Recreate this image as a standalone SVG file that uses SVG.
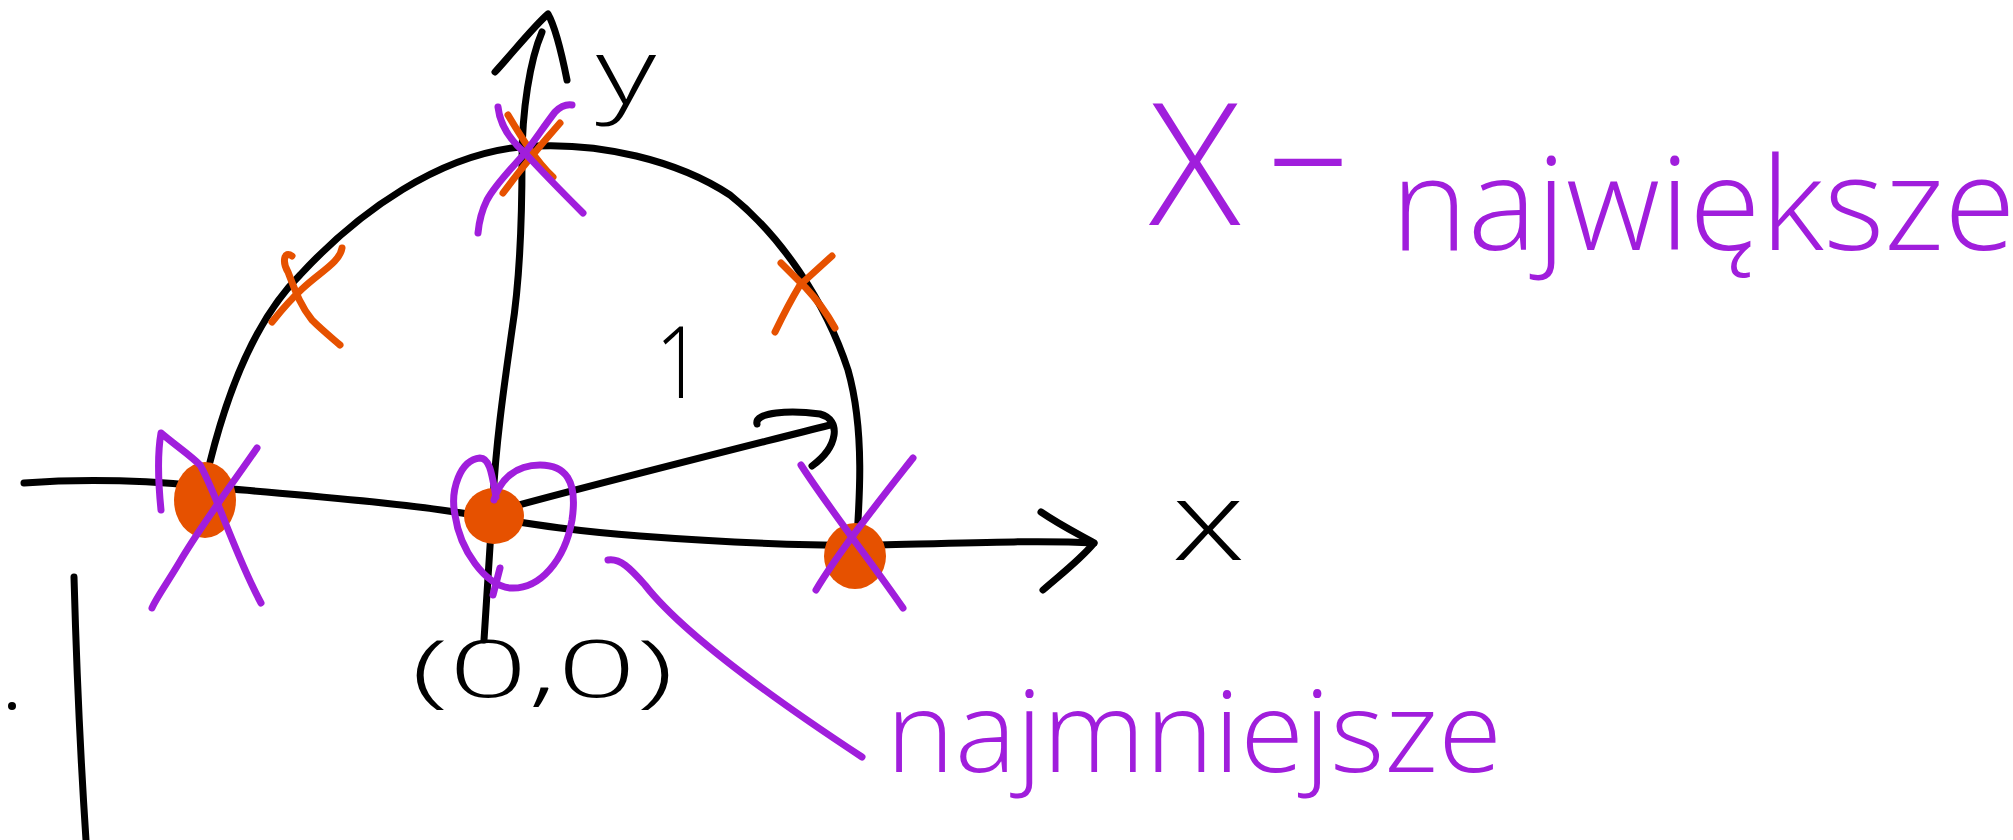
<svg xmlns="http://www.w3.org/2000/svg" width="2013" height="840" viewBox="0 0 2013 840">
<style>
.k{fill:none;stroke:#000;stroke-width:7;stroke-linecap:round;stroke-linejoin:round}
.p{fill:none;stroke:#A01EDC;stroke-width:7;stroke-linecap:round;stroke-linejoin:round}
.o{fill:none;stroke:#E65100;stroke-width:7;stroke-linecap:round;stroke-linejoin:round}
.dot{fill:#E65100}
.tk{fill:#000;font-family:"Open Sans","Liberation Sans",sans-serif;font-weight:300}
.tp{fill:#A01EDC;font-family:"Open Sans","Liberation Sans",sans-serif;font-weight:300}
</style>
<rect width="2013" height="840" fill="#fff"/>
<g id="axes">
<path class="k" d="M24,483 C80,479 140,480 200,486 C280,494 380,500 455,512 C520,522 560,530 640,536 C720,542 800,546 880,545 C960,543 1040,540 1094,543"/>
<path class="k" d="M1041,512 C1060,525 1080,535 1094,543 C1080,560 1060,575 1043,590"/>
<path class="k" d="M484,640 C487,600 490,550 493,500 C496,440 505,380 512,330 C520,280 522,220 522,160 C522,110 530,60 542,32"/>
<path class="k" d="M495,72 C515,50 535,25 548,14 C556,28 562,55 567,80"/>
<text class="tk" x="596" y="104" font-size="92" textLength="60" lengthAdjust="spacingAndGlyphs">y</text>
<text class="tk" x="1172" y="560" font-size="110" textLength="73" lengthAdjust="spacingAndGlyphs">x</text>
</g>
<g id="arc">
<path class="k" d="M210,462 C228,390 255,320 300,275 C360,210 440,155 520,147 C600,140 680,162 730,195 C780,235 825,300 848,370 C865,430 860,500 855,565"/>
</g>
<g id="connectors">
<path class="k" d="M494,512 C560,493 700,458 830,425"/>
<path class="k" d="M757,424 C754,412 790,410 820,414 C842,420 838,447 812,466"/>
<path class="p" d="M608,560 C620,558 630,568 645,585 C680,630 760,690 862,757"/>
</g>
<g id="mark-left-arc">
<path class="o" d="M292,256 C284,250 282,262 288,272 C295,290 300,305 312,320 C322,330 332,338 340,345"/>
<path class="o" d="M342,248 C340,262 320,272 302,289 C290,300 280,312 272,322"/>
</g>
<g id="mark-right-arc">
<path class="o" d="M781,263 L806,288 Q822,305 835,328"/>
<path class="o" d="M832,256 L800,285 Q788,305 775,332"/>
</g>
<g id="point-top">
<path class="o" d="M508,115 C520,135 535,160 553,177"/>
<path class="o" d="M560,123 C545,140 520,170 503,193"/>
<path class="p" d="M498,107 C500,125 510,140 525,153 C545,175 565,195 583,213"/>
<path class="p" d="M572,105 C565,104 560,107 555,112 C545,125 535,140 525,153 C510,170 495,185 487,200 C482,210 479,222 478,233"/>
</g>
<g id="point-left">
<ellipse class="dot" cx="205" cy="500" rx="31" ry="38"/>
<path class="p" d="M161,510 C158,480 158,450 161,433 C175,445 190,455 200,465 C215,490 235,555 261,603"/>
<path class="p" d="M257,448 C235,480 205,520 182,558 C168,582 156,598 152,608"/>
</g>
<g id="point-origin">
<ellipse class="dot" cx="494" cy="516" rx="30" ry="28"/>
<path class="p" d="M496,497 C492,475 490,458 480,458 C460,460 450,490 455,515 C460,550 485,585 510,588 C540,590 565,560 572,520 C578,480 565,465 540,465 C515,465 500,480 494,500 M500,568 L493,595"/>
<text class="tk" x="411" y="697" font-size="80" textLength="263" lengthAdjust="spacingAndGlyphs">(0,0)</text>
</g>
<g id="point-right">
<ellipse class="dot" cx="855" cy="556" rx="31" ry="33"/>
<path class="p" d="M801,465 C830,510 870,560 903,608"/>
<path class="p" d="M913,458 C880,500 840,550 816,590"/>
</g>
<g id="radius-label">
<text class="tk" x="655" y="398" font-size="100" textLength="48" lengthAdjust="spacingAndGlyphs">1</text>
</g>
<g id="label-max">
<text class="tp"><tspan x="1149" y="225" font-size="170">X</tspan><tspan x="1268" y="206" font-size="160">–</tspan><tspan x="1391" y="250" font-size="130">największe</tspan></text>
</g>
<g id="label-min">
<text class="tp" x="886" y="772" font-size="112" textLength="616" lengthAdjust="spacingAndGlyphs">najmniejsze</text>
</g>
<g id="side">
<path class="k" d="M74,577 C76,650 80,750 86,840"/>
<circle cx="12" cy="706" r="4" fill="#000"/>
</g>
</svg>
